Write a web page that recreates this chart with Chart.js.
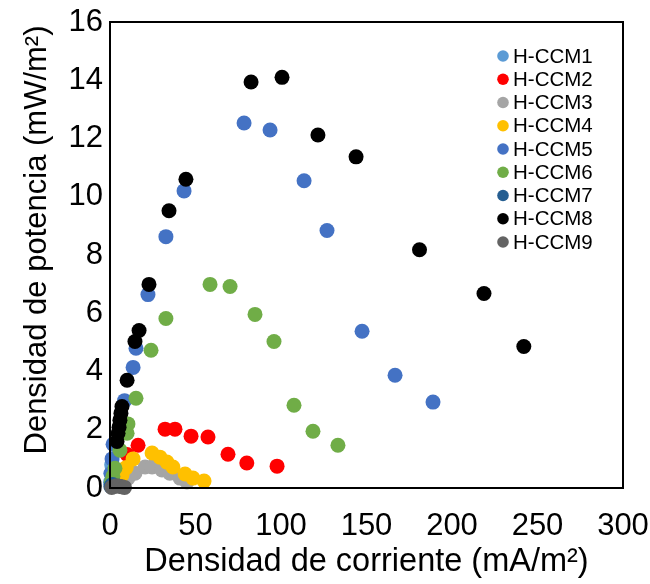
<!DOCTYPE html>
<html>
<head>
<meta charset="utf-8">
<script src="https://cdn.jsdelivr.net/npm/chart.js@4.4.0/dist/chart.umd.min.js"></script>
<style>
  html, body { margin: 0; padding: 0; background: #fff; }
  #wrap { width: 650px; height: 584px; }
</style>
</head>
<body>
<div id="wrap"><canvas id="chart" width="650" height="584"></canvas></div>
<script>
// Series names (legend order)
const seriesNames = ['H-CCM1', 'H-CCM2', 'H-CCM3', 'H-CCM4', 'H-CCM5', 'H-CCM6', 'H-CCM7', 'H-CCM8', 'H-CCM9'];
const seriesColors = ['#5B9BD5', '#FF0000', '#A5A5A5', '#FFC000', '#4472C4', '#70AD47', '#255E91', '#000000', '#636363'];

// Current density (mA/m2) / power density (mW/m2)
const ccm1X = [0.3, 0.6, 1.0];
const ccm1Y = [0.2, 0.5, 0.8];

const ccm2X = [2, 5, 10, 16.4, 32.2, 38, 47.4, 57.3, 69, 80, 97.7];
const ccm2Y = [0.25, 0.6, 1.15, 1.47, 2.02, 2.02, 1.78, 1.75, 1.16, 0.86, 0.75];

const ccm3X = [3, 7, 10.5, 14.6, 20.5, 24.6, 30.4, 35, 41, 45];
const ccm3Y = [0.15, 0.3, 0.34, 0.51, 0.72, 0.72, 0.62, 0.51, 0.34, 0.21];

const ccm4X = [2, 4.5, 7, 9.5, 13.5, 24.6, 29.2, 33.3, 36.8, 43.9, 48.5, 55];
const ccm4Y = [0.1, 0.25, 0.45, 0.7, 1.0, 1.2, 1.06, 0.89, 0.72, 0.48, 0.34, 0.24];

const ccm5X = [0.6, 1.2, 1.8, 8.5, 13.5, 15.2, 22.2, 32.7, 43.3, 78.4, 93.6, 113.5, 126.9, 147.4, 166.7, 188.9];
const ccm5Y = [0.5, 1.0, 1.5, 3.0, 4.14, 4.8, 6.64, 8.63, 10.2, 12.53, 12.29, 10.55, 8.84, 5.38, 3.87, 2.95];

const ccm6X = [0.8, 1.7, 2.9, 5.8, 10, 10.5, 15.2, 24, 32.7, 58.5, 70.2, 84.8, 95.9, 107.6, 118.7, 133.3];
const ccm6Y = [0.2, 0.4, 0.68, 1.3, 1.88, 2.2, 3.08, 4.73, 5.82, 6.99, 6.92, 5.96, 5.03, 2.84, 1.95, 1.47];

const ccm7X = [0.5, 1.0, 1.5];
const ccm7Y = [0.05, 0.1, 0.12];

const ccm8X = [4.1, 4.7, 5.3, 5.8, 6.4, 7, 10, 14.6, 17, 22.8, 34.5, 44.4, 82.5, 100.6, 121.6, 143.9, 181, 218.7, 242];
const ccm8Y = [1.6, 1.88, 2.09, 2.33, 2.57, 2.8, 3.7, 5.03, 5.41, 6.99, 9.52, 10.6, 13.94, 14.1, 12.12, 11.37, 8.18, 6.68, 4.86];

const ccm9X = [1, 2.5, 4, 5.5, 7, 8.5];
const ccm9Y = [0.02, 0.05, 0.08, 0.06, 0.04, 0.02];

const allX = [ccm1X, ccm2X, ccm3X, ccm4X, ccm5X, ccm6X, ccm7X, ccm8X, ccm9X];
const allY = [ccm1Y, ccm2Y, ccm3Y, ccm4Y, ccm5Y, ccm6Y, ccm7Y, ccm8Y, ccm9Y];

// Axis ticks
const xTicks = [0, 50, 100, 150, 200, 250, 300];
const yTicks = [0, 2, 4, 6, 8, 10, 12, 14, 16];

const xTitle = 'Densidad de corriente (mA/m²)';
const yTitle = 'Densidad de potencia (mW/m²)';

const FONT = '"Liberation Sans", Arial, sans-serif';

const datasets = seriesNames.map((name, i) => ({
    label: name,
    data: allX[i].map((x, j) => ({ x, y: allY[i][j] })),
    backgroundColor: seriesColors[i],
    borderWidth: 0,
    pointRadius: 7.5,
    pointHoverRadius: 7.5,
    clip: false,
    // later series drawn on top, like the original
    order: seriesNames.length - 1 - i
}));

// Frame round the plot area + y title (sits a bit above the plot centre in the original)
const frame = {
    id: 'frame',
    afterDraw(chart) {
        const { ctx, chartArea: a } = chart;
        ctx.save();
        ctx.strokeStyle = '#000';
        ctx.lineWidth = 2;
        ctx.strokeRect(a.left, a.top, a.right - a.left, a.bottom - a.top);

        ctx.translate(37, 240);
        ctx.rotate(-Math.PI / 2);
        ctx.font = '31px ' + FONT;
        ctx.fillStyle = '#000';
        ctx.textAlign = 'center';
        ctx.textBaseline = 'middle';
        ctx.fillText(yTitle, 0, 0);
        ctx.restore();
    }
};

// Legend drawn inside the plot, top right
const innerLegend = {
    id: 'innerLegend',
    afterDraw(chart) {
        const { ctx } = chart;
        const x0 = 503, y0 = 56, step = 23.25;
        ctx.save();
        ctx.font = '20.5px ' + FONT;
        ctx.textBaseline = 'middle';
        ctx.textAlign = 'left';
        chart.data.datasets.forEach((ds, i) => {
            const y = y0 + i * step;
            ctx.fillStyle = ds.backgroundColor;
            ctx.beginPath();
            ctx.arc(x0, y, 5.8, 0, Math.PI * 2);
            ctx.fill();
            ctx.fillStyle = '#000';
            ctx.fillText(ds.label, x0 + 10, y + 1);
        });
        ctx.restore();
    }
};

new Chart(document.getElementById('chart'), {
    type: 'scatter',
    data: { datasets },
    plugins: [frame, innerLegend],
    options: {
        responsive: false,
        animation: false,
        layout: { padding: { top: 22, right: 27, left: 0, bottom: 0 } },
        plugins: {
            legend: { display: false },
            tooltip: { enabled: false }
        },
        scales: {
            x: {
                type: 'linear',
                min: 0,
                max: 300,
                afterBuildTicks: (s) => { s.ticks = xTicks.map(v => ({ value: v })); },
                afterFit: (s) => { s.height = 96; s.paddingLeft = 0; s.paddingRight = 0; },
                grid: { display: false, drawTicks: false },
                border: { display: true, color: '#000', width: 2 },
                ticks: { color: '#000', padding: 20, maxRotation: 0, font: { family: FONT, size: 31 } },
                title: {
                    display: true,
                    text: xTitle,
                    color: '#000',
                    font: { family: FONT, size: 32.5 },
                    padding: { top: 0, bottom: 2 }
                }
            },
            y: {
                type: 'linear',
                min: 0,
                max: 16,
                afterBuildTicks: (s) => { s.ticks = yTicks.map(v => ({ value: v })); },
                afterFit: (s) => { s.width = 110; s.paddingTop = 0; s.paddingBottom = 0; },
                grid: { display: false, drawTicks: false },
                border: { display: true, color: '#000', width: 2 },
                ticks: { color: '#000', padding: 7, font: { family: FONT, size: 31 } }
            }
        }
    }
});
</script>
</body>
</html>
